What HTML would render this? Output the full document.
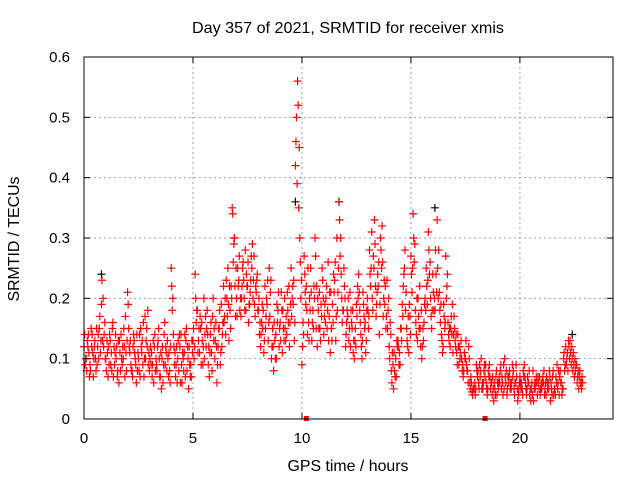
<!DOCTYPE html>
<html><head><meta charset="utf-8"><style>
html,body{margin:0;padding:0;background:#fff;}
svg text{font-family:"Liberation Sans",sans-serif;font-size:15px;fill:#000;}
</style></head><body>
<svg id="chart" width="640" height="480" xmlns="http://www.w3.org/2000/svg">
<text x="348" y="33" text-anchor="middle" style="font-size:16px" textLength="312" lengthAdjust="spacingAndGlyphs">Day 357 of 2021, SRMTID for receiver xmis</text>
<text x="348" y="471" text-anchor="middle" style="font-size:16px" textLength="121" lengthAdjust="spacingAndGlyphs">GPS time / hours</text>
<text transform="translate(19,239) rotate(-90)" text-anchor="middle" style="font-size:16px" textLength="125" lengthAdjust="spacingAndGlyphs">SRMTID / TECUs</text>
<g id="grid"></g>
<g id="marks"></g>
<rect x="84" y="57" width="529" height="362" fill="none" stroke="#000" stroke-width="1"/>
<g id="axes"></g>
</svg>
<script>
const xTicks=[0,5,10,15,20];
const yTicks=[0,0.1,0.2,0.3,0.4,0.5,0.6];
const yTickLabels=["0","0.1","0.2","0.3","0.4","0.5","0.6"];
const seriesA=[0.12,0.10,0.14,0.08,0.11,0.13,0.09,0.15,0.19,0.12,
0.10,0.07,0.13,0.15,0.09,0.12,0.06,0.14,0.10,0.17,
0.21,0.11,0.08,0.13,0.06,0.10,0.15,0.09,0.17,0.12,
0.08,0.11,0.06,0.10,0.13,0.07,0.12,0.16,0.08,0.11,
0.25,0.14,0.07,0.10,0.12,0.06,0.11,0.15,0.05,0.09,
0.13,0.24,0.18,0.11,0.16,0.20,0.12,0.09,0.14,0.17,
0.10,0.06,0.15,0.19,0.22,0.14,0.25,0.18,0.35,0.30,
0.20,0.23,0.17,0.26,0.28,0.22,0.19,0.25,0.27,0.21,
0.18,0.12,0.15,0.22,0.19,0.25,0.10,0.08,0.14,0.18,
0.16,0.11,0.20,0.14,0.22,0.25,0.19,0.42,0.56,0.30,
0.09,0.27,0.22,0.16,0.25,0.18,0.30,0.12,0.21,0.17,
0.14,0.20,0.26,0.11,0.19,0.23,0.30,0.36,0.24,0.18,
0.12,0.17,0.21,0.15,0.10,0.19,0.24,0.14,0.21,0.16,
0.20,0.28,0.31,0.25,0.17,0.22,0.30,0.26,0.19,0.23,
0.12,0.08,0.05,0.10,0.13,0.09,0.19,0.25,0.15,0.11,
0.27,0.34,0.18,0.13,0.22,0.10,0.16,0.25,0.31,0.20,
0.24,0.18,0.33,0.21,0.14,0.19,0.27,0.16,0.12,0.19,
0.15,0.11,0.09,0.13,0.07,0.10,0.08,0.06,0.045,0.05,
0.09,0.06,0.08,0.05,0.07,0.04,0.09,0.06,0.03,0.07,
0.05,0.08,0.06,0.10,0.04,0.07,0.05,0.08,0.06,0.03,
0.07,0.05,0.09,0.04,0.06,0.03,0.08,0.05,0.04,0.07,
0.05,0.08,0.04,0.06,0.03,0.07,0.05,0.09,0.04,0.06,
0.10,0.12,0.08,0.13,0.10,0.07,0.09,0.05,0.06];
const seriesB=[0.09,0.13,0.07,0.12,0.10,0.08,0.14,0.11,0.13,0.16,
0.13,0.09,0.11,0.07,0.14,0.08,0.11,0.09,0.12,0.08,
0.15,0.09,0.12,0.10,0.08,0.14,0.11,0.07,0.13,0.09,
0.12,0.09,0.14,0.08,0.10,0.05,0.09,0.12,0.10,0.06,
0.18,0.09,0.12,0.08,0.14,0.10,0.07,0.12,0.09,0.13,
0.10,0.16,0.13,0.15,0.09,0.14,0.18,0.07,0.11,0.13,
0.16,0.12,0.09,0.14,0.17,0.20,0.13,0.22,0.26,0.17,
0.25,0.18,0.22,0.20,0.24,0.16,0.23,0.20,0.17,0.24,
0.14,0.16,0.11,0.17,0.13,0.21,0.15,0.13,0.19,0.12,
0.21,0.15,0.13,0.18,0.16,0.20,0.13,0.50,0.35,0.20,
0.16,0.21,0.14,0.20,0.13,0.22,0.15,0.18,0.13,0.23,
0.19,0.15,0.17,0.15,0.24,0.13,0.21,0.27,0.16,0.22,
0.16,0.13,0.18,0.11,0.15,0.22,0.18,0.10,0.17,0.13,
0.15,0.22,0.18,0.29,0.21,0.14,0.25,0.20,0.15,0.18,
0.16,0.11,0.08,0.13,0.09,0.15,0.22,0.18,0.12,0.17,
0.21,0.26,0.14,0.17,0.12,0.15,0.20,0.19,0.24,0.15,
0.18,0.24,0.20,0.16,0.11,0.15,0.22,0.13,0.17,0.14,
0.12,0.14,0.10,0.08,0.11,0.09,0.12,0.07,0.05,0.04,
0.07,0.09,0.05,0.08,0.06,0.08,0.05,0.07,0.05,0.04,
0.07,0.05,0.09,0.06,0.07,0.05,0.09,0.04,0.07,0.05,
0.05,0.08,0.06,0.07,0.04,0.06,0.05,0.07,0.06,0.05,
0.07,0.05,0.06,0.08,0.05,0.04,0.07,0.06,0.08,0.05,
0.08,0.10,0.12,0.09,0.11,0.08,0.07,0.08,0.07];
const seriesC=[0.14,0.08,0.11,0.15,0.07,0.10,0.12,0.17,0.23,0.14,
0.08,0.12,0.09,0.16,0.11,0.07,0.13,0.10,0.15,0.11,
0.19,0.13,0.07,0.11,0.14,0.08,0.12,0.16,0.10,0.18,
0.10,0.07,0.12,0.09,0.15,0.11,0.06,0.09,0.13,0.08,
0.22,0.12,0.09,0.13,0.06,0.11,0.14,0.08,0.12,0.07,
0.15,0.20,0.11,0.17,0.13,0.10,0.15,0.12,0.16,0.20,
0.13,0.09,0.18,0.12,0.16,0.23,0.19,0.15,0.34,0.22,
0.17,0.27,0.20,0.23,0.18,0.26,0.21,0.29,0.19,0.23,
0.20,0.14,0.18,0.15,0.23,0.17,0.12,0.16,0.10,0.21,
0.13,0.18,0.15,0.21,0.12,0.17,0.23,0.46,0.52,0.26,
0.12,0.24,0.18,0.13,0.21,0.15,0.27,0.20,0.15,0.25,
0.17,0.22,0.13,0.21,0.16,0.26,0.18,0.33,0.20,0.25,
0.14,0.20,0.12,0.18,0.13,0.17,0.21,0.12,0.19,0.11,
0.18,0.24,0.20,0.33,0.19,0.26,0.28,0.17,0.22,0.15,
0.10,0.06,0.11,0.07,0.12,0.15,0.17,0.28,0.13,0.19,
0.24,0.30,0.16,0.20,0.15,0.12,0.19,0.22,0.28,0.17,
0.21,0.28,0.25,0.18,0.13,0.17,0.20,0.14,0.15,0.11,
0.13,0.09,0.12,0.10,0.08,0.13,0.06,0.05,0.04,0.06,
0.08,0.05,0.10,0.06,0.09,0.05,0.07,0.04,0.06,0.08,
0.06,0.09,0.04,0.07,0.05,0.08,0.06,0.05,0.09,0.04,
0.06,0.04,0.07,0.05,0.08,0.05,0.03,0.06,0.07,0.04,
0.06,0.04,0.07,0.05,0.06,0.08,0.04,0.05,0.07,0.04,
0.11,0.09,0.13,0.11,0.08,0.10,0.06,0.07,0.05];
const seriesD=[0.10,0.12,0.09,0.14,0.12,0.15,0.10,0.13,0.20,0.10,
0.11,0.14,0.08,0.12,0.10,0.13,0.08,0.12,0.07,0.13,
0.12,0.08,0.14,0.09,0.11,0.07,0.13,0.10,0.15,0.11,
0.09,0.13,0.08,0.12,0.07,0.10,0.14,0.11,0.07,0.12,
0.20,0.11,0.06,0.14,0.09,0.08,0.13,0.10,0.07,0.11,
0.12,0.18,0.15,0.09,0.12,0.17,0.14,0.11,0.08,0.15,
0.12,0.15,0.11,0.16,0.20,0.17,0.22,0.20,0.29,0.25,
0.22,0.20,0.25,0.18,0.22,0.19,0.27,0.23,0.22,0.18,
0.16,0.19,0.13,0.20,0.16,0.23,0.12,0.10,0.16,0.15,
0.18,0.13,0.17,0.16,0.19,0.22,0.16,0.39,0.45,0.23,
0.14,0.19,0.25,0.18,0.16,0.20,0.22,0.15,0.19,0.20,
0.16,0.18,0.21,0.13,0.21,0.17,0.25,0.30,0.18,0.20,
0.18,0.15,0.16,0.13,0.12,0.20,0.16,0.13,0.15,0.18,
0.17,0.25,0.27,0.22,0.24,0.19,0.32,0.23,0.17,0.20,
0.14,0.09,0.07,0.12,0.11,0.13,0.24,0.21,0.17,0.14,
0.25,0.29,0.20,0.15,0.18,0.13,0.18,0.23,0.26,0.18,
0.20,0.21,0.28,0.19,0.12,0.16,0.24,0.15,0.14,0.17,
0.14,0.12,0.11,0.09,0.10,0.08,0.10,0.06,0.05,0.05,
0.08,0.07,0.06,0.09,0.05,0.07,0.06,0.05,0.04,0.06,
0.06,0.07,0.05,0.08,0.06,0.06,0.07,0.06,0.05,0.06,
0.06,0.07,0.05,0.06,0.05,0.04,0.06,0.06,0.05,0.06,
0.06,0.06,0.05,0.07,0.04,0.05,0.06,0.08,0.06,0.05,
0.09,0.11,0.10,0.12,0.09,0.09,0.08,0.06,0.06];
const blackTimes=[0.8,6.9,9.7,11.7,16.1,22.4];
const blackValues=[0.24,0.30,0.36,0.36,0.35,0.14];
const gapTimes=[10.2,18.4];
const X0=84,X1=613,Y0=419,Y1=57,XMAX=24.27,YMAX=0.6;
const sx=t=>X0+(X1-X0)*t/XMAX;
const sy=v=>Y0-(Y0-Y1)*v/YMAX;
const NS="http://www.w3.org/2000/svg";
const grid=document.getElementById('grid'),axes=document.getElementById('axes'),marks=document.getElementById('marks');
function mk(tag,attrs,parent){const e=document.createElementNS(NS,tag);for(const k in attrs)e.setAttribute(k,attrs[k]);parent.appendChild(e);return e;}
xTicks.forEach(t=>{
  const x=sx(t);
  if(t>0){const g=mk('line',{x1:x,x2:x,y1:Y1,y2:Y0,stroke:'#a0a0a0','stroke-dasharray':'2,3'},grid);
  
  }
  const a=mk('line',{x1:x,x2:x,y1:Y0,y2:Y0-6,stroke:'#000'},axes);
  
  
  const b=mk('line',{x1:x,x2:x,y1:Y1,y2:Y1+6,stroke:'#000'},axes);
  
  
  const l=mk('text',{x:x,y:443,'text-anchor':'middle'},axes);l.textContent=String(t);
  
  
});
yTicks.forEach((v,i)=>{
  const y=sy(v);
  if(v>0&&v<YMAX){const g=mk('line',{x1:X0,x2:X1,y1:y,y2:y,stroke:'#a0a0a0','stroke-dasharray':'2,3'},grid);
  
  }
  const a=mk('line',{x1:X0,x2:X0+6,y1:y,y2:y,stroke:'#000'},axes);
  
  
  const b=mk('line',{x1:X1,x2:X1-6,y1:y,y2:y,stroke:'#000'},axes);
  
  
  const l=mk('text',{x:70,y:y+5,'text-anchor':'end'},axes);l.textContent=yTickLabels[i];
  
  
});
function plus(t,v,color,name){
  const x=sx(t),y=sy(v);
  const p=mk('path',{d:`M${x-4},${y}h8M${x},${y-4}v8`,stroke:color,'stroke-width':1.2,fill:'none'},marks);
  
  
}
blackTimes.forEach((t,i)=>plus(t,blackValues[i],'#000','reference-point'));
seriesA.forEach((v,i)=>plus(i*0.1,v,'#ff0000','srmtid-point'));
seriesB.forEach((v,i)=>plus(i*0.1+0.05,v,'#ff0000','srmtid-point'));
seriesC.forEach((v,i)=>plus(i*0.1+0.025,v,'#ff0000','srmtid-point'));
seriesD.forEach((v,i)=>plus(i*0.1+0.075,v,'#ff0000','srmtid-point'));
gapTimes.forEach(t=>{
  const r=mk('rect',{x:sx(t)-2.5,y:Y0-3,width:5,height:5,fill:'#ff0000'},marks);
  
  
});
</script>
</body></html>
